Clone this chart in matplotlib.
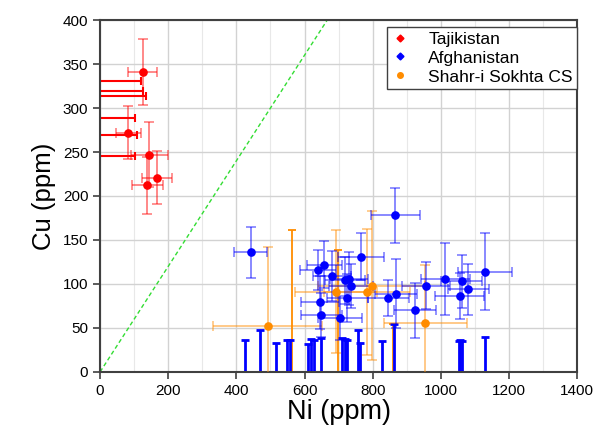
import matplotlib
matplotlib.use("Agg")
import matplotlib.pyplot as plt
from matplotlib.lines import Line2D
from matplotlib.ticker import MultipleLocator
import numpy as np

plt.rcParams['font.family'] = ['Liberation Sans', 'DejaVu Sans']

# ───────── Data (ppm) ─────────
# Tajikistan
taj_ni = [125, 83, 145, 139, 167]
taj_cu = [341, 272, 247, 212, 221]
taj_ni_err = [43, 37, 54, 45, 44]
taj_cu_err = [38, 30, 37, 32, 30]
# Tajikistan samples with Ni below detection (horizontal upper limits)
taj_lim_cu = [331, 319, 314, 289, 269, 245]
taj_lim_ni = [120, 127, 135, 101, 108, 103]

# Afghanistan
afg_ni = [442, 866, 766, 658, 639, 680, 719, 731, 736, 726, 646, 649, 704,
          846, 868, 924, 956, 1013, 1061, 1081, 1055, 1130]
afg_cu = [136, 178, 131, 122, 116, 109, 104, 106, 98, 84, 79, 65, 61,
          84, 89, 70, 98, 106, 103, 94, 86, 114]
afg_ni_err = [49, 72, 67, 52, 52, 55, 60, 55, 65, 60, 55, 60, 65,
              61, 62, 61, 70, 72, 60, 60, 72, 80]
afg_cu_err = [29, 31, 27, 27, 23, 28, 27, 30, 25, 27, 30, 25, 25,
              20, 39, 31, 27, 41, 30, 29, 26, 44]
# Afghanistan samples with Cu below detection (vertical upper limits)
afg_lim_ni = [426, 468, 517, 550, 556, 609, 619, 629, 647, 709, 719, 724,
              756, 763, 826, 863, 1052, 1057, 1063, 1130]
afg_lim_cu = [36, 48, 33, 36, 36, 32, 37, 36, 38, 38, 37, 36,
              48, 33, 35, 55, 35, 36, 35, 40]

# Shahr-i Sokhta CS
ss_ni = [492, 692, 784, 797, 954]
ss_cu = [52, 91, 91, 98, 56]
ss_ni_err = [160, 120, 126, 157, 122]
ss_cu_err = [90, 70, 72, 85, 66]
ss_lim_ni = [563, 699, 859]
ss_lim_cu = [161, 139, 55]

RED = '#ff0000'
BLUE = '#0000ff'
ORANGE = '#ff8c00'

fig = plt.figure(figsize=(6.03, 4.36), dpi=100)
ax = fig.add_axes([0.166, 0.147, 0.791, 0.807])

# ───────── Grid ─────────
ax.set_xlim(0, 1400)
ax.set_ylim(0, 400)
ax.xaxis.set_major_locator(MultipleLocator(200))
ax.xaxis.set_minor_locator(MultipleLocator(100))
ax.yaxis.set_major_locator(MultipleLocator(50))
ax.grid(True, which='major', color='#d2d2d2', lw=1.0, zorder=0)
ax.grid(True, which='minor', axis='x', color='#e8e8e8', lw=0.8, zorder=0)
ax.set_axisbelow(True)

# 1:0.6 reference line
xx = np.array([0, 1400])
ax.plot(xx, 0.6 * xx, ls=(0, (3, 2)), color='#33dd33', lw=1.0, zorder=1)

# ───────── Upper limits ─────────
ax.hlines(taj_lim_cu, 0, taj_lim_ni, color=RED, lw=1.5, zorder=2)
ax.plot(taj_lim_ni, taj_lim_cu, ls='none', marker='|', ms=6, mew=1.5, color=RED, zorder=2)

ax.vlines(ss_lim_ni, 0, ss_lim_cu, color=ORANGE, lw=1.3, zorder=2)
ax.plot(ss_lim_ni, ss_lim_cu, ls='none', marker='_', ms=6, mew=1.3, color=ORANGE, zorder=2)

ax.vlines(afg_lim_ni, 0, afg_lim_cu, color=BLUE, lw=2.0, zorder=2)
ax.plot(afg_lim_ni, afg_lim_cu, ls='none', marker='_', ms=6, mew=2.0, color=BLUE, zorder=2)

# ───────── Points with error bars ─────────
def draw(ni, cu, ni_err, cu_err, color, marker, ms):
    ax.errorbar(ni, cu, xerr=ni_err, yerr=cu_err, fmt='none', ecolor=color,
                alpha=0.5, elinewidth=1.3, capsize=3.5, capthick=1.2, zorder=3)
    ax.plot(ni, cu, ls='none', marker=marker, ms=ms, color=color, zorder=4)

draw(ss_ni, ss_cu, ss_ni_err, ss_cu_err, ORANGE, 'o', 5.2)
draw(afg_ni, afg_cu, afg_ni_err, afg_cu_err, BLUE, 'o', 5.2)
draw(taj_ni, taj_cu, taj_ni_err, taj_cu_err, RED, 'o', 5.2)

# ───────── Axes styling ─────────
for s in ax.spines.values():
    s.set_color('#404040')
    s.set_linewidth(1.5)
ax.tick_params(which='major', direction='out', length=5, width=1.2, color='#404040',
               labelsize=11, top=False, right=False)
ax.tick_params(which='minor', length=0)
ax.set_xlabel('Ni (ppm)', fontsize=19.5, labelpad=1)
ax.set_ylabel('Cu (ppm)', fontsize=18.5, labelpad=5)

handles = [
    Line2D([], [], ls='none', marker='D', ms=3.5, color=RED, label='Tajikistan'),
    Line2D([], [], ls='none', marker='D', ms=3.5, color=BLUE, label='Afghanistan'),
    Line2D([], [], ls='none', marker='o', ms=4, color=ORANGE, label='Shahr-i Sokhta CS'),
]
leg = ax.legend(handles=handles, loc='upper right', bbox_to_anchor=(1.0, 0.98),
                fontsize=12.5, frameon=True, fancybox=False, framealpha=1,
                edgecolor='#404040', handlelength=1.0, handletextpad=1.1,
                labelspacing=0.22, borderpad=0.25, borderaxespad=0.0)
leg.get_frame().set_linewidth(1.0)

fig.savefig('out.png', dpi=100)
